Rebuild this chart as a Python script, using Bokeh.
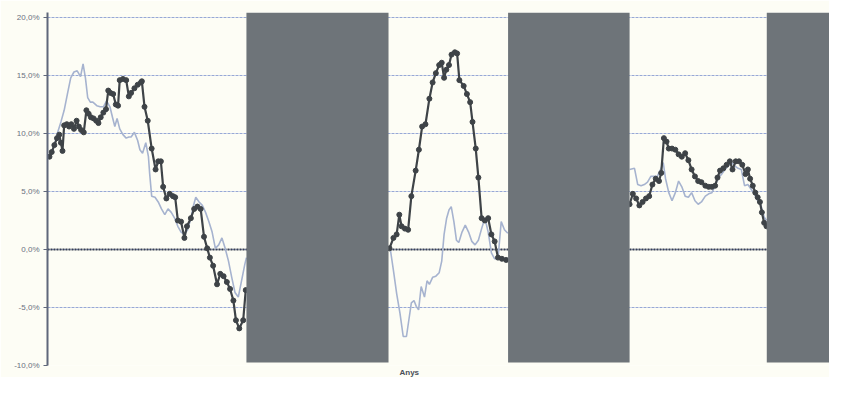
import math
from bokeh.plotting import figure
from bokeh.models import FixedTicker, Span, Range1d, Title
from bokeh.embed import file_html
from bokeh.resources import INLINE

NAN = float("nan")

# x positions (observation index along "Anys") and values in %
dark_x1 = [2, 4.3, 7, 9.7, 12, 13.7, 15.3, 17, 19.7, 22, 24.3, 27, 29.7, 32, 34.3, 37, 39.7, 42, 44.3,
           47, 49.7, 52, 54.3, 57, 59.7, 62, 64.3, 67, 69.7, 72, 73.7, 77, 80.3, 83, 85.3, 88.7, 92,
           95.3, 96.3, 99, 102.3, 106.3, 110.3, 113, 115.7, 118, 121.3, 124.7, 128, 130.3, 133, 136.3,
           139.7, 142.3, 146.3, 149.7, 153, 156.3, 159.7, 163, 165.7, 169, 173, 176.3, 179.7, 183, 186.3,
           189.7, 192.3, 195.7, 199.7, 202.3]
dark_y1 = [8.0, 8.4, 9.0, 9.6, 9.9, 9.2, 8.5, 10.7, 10.8, 10.6, 10.8, 10.4, 11.1, 10.6, 10.3, 10.1, 12.0,
           11.7, 11.4, 11.3, 11.1, 10.9, 11.4, 11.8, 12.1, 13.7, 13.5, 13.4, 12.5, 12.4, 14.6, 14.7, 14.6,
           13.2, 13.5, 13.9, 14.2, 14.4, 14.5, 12.3, 11.1, 8.7, 6.9, 7.6, 7.6, 5.4, 4.4, 4.8, 4.6, 4.5,
           2.5, 2.4, 1.0, 2.0, 2.7, 3.5, 3.7, 3.5, 1.1, 0.1, -0.7, -1.4, -3.0, -2.1, -2.3, -2.8, -3.4,
           -4.4, -6.1, -6.8, -6.1, -3.5]

dark_x2 = [349, 353, 356.3, 359, 361.3, 364.7, 368, 371.3, 375.7, 379, 382.3, 385.7, 389.7, 393, 396.3,
           399.7, 402.3, 404.7, 407, 409.7, 412.3, 415.7, 418, 420.3, 424.7, 428, 431.3, 433.7, 437,
           439.7, 443, 446.3, 449.7, 453, 456.3, 459.7, 463.7, 468]
dark_y2 = [0.1, 1.0, 1.3, 3.0, 2.0, 1.8, 1.7, 4.6, 6.8, 8.6, 10.6, 10.8, 13.0, 14.4, 15.2, 15.9, 16.1,
           14.8, 15.5, 15.9, 16.8, 17.0, 16.9, 14.6, 14.1, 13.4, 12.7, 11.0, 8.7, 6.2, 2.7, 2.5, 2.7,
           1.3, 0.7, -0.7, -0.8, -0.9]

dark_x3 = [594, 597.3, 600.7, 604, 607.3, 610.7, 614, 617.3, 620.7, 624, 626.3, 629, 631.7, 634, 637.3,
           640.7, 644, 647.3, 650.7, 654, 657.3, 660.7, 664, 667.3, 671.3, 674.7, 678, 681.3, 683.7,
           686.3, 689.7, 693, 696.3, 699, 702.3, 705.7, 709, 712.3, 714.7, 717, 719.7, 722.3, 724.7,
           727, 729, 731.3, 733.7]
dark_y3 = [3.9, 4.8, 4.4, 3.8, 4.1, 4.4, 4.6, 5.6, 6.1, 5.9, 6.6, 9.6, 9.3, 8.7, 8.7, 8.6, 8.2, 8.0,
           8.3, 7.7, 6.9, 6.3, 5.9, 5.8, 5.5, 5.4, 5.4, 5.5, 6.2, 6.8, 7.0, 7.3, 7.6, 6.9, 7.6, 7.6,
           7.3, 6.5, 6.9, 6.1, 5.5, 4.9, 4.5, 4.1, 3.2, 2.3, 2.0]

light_x1 = [2, 7, 10, 13.7, 17, 20.3, 23.7, 27, 30.3, 33.7, 36.3, 38.7, 41, 43.7, 46.3, 50.3, 53.7, 57,
            60.3, 63.7, 66.3, 68.7, 71, 73.7, 77, 80.3, 83, 85.3, 88.7, 92, 94.3, 97, 100.3, 103, 104.3,
            106.3, 109.7, 113, 116.3, 119.7, 123, 126.3, 129.7, 133, 136.3, 139.7, 143, 146.3, 149,
            151.3, 154.7, 158, 161.3, 164.7, 168, 171.3, 174.7, 178, 181.3, 184.7, 188, 191.3, 194.7,
            198, 201.3, 203]
light_y1 = [7.8, 9.0, 10.0, 11.0, 12.0, 13.4, 14.8, 15.3, 15.4, 14.9, 16.0, 14.8, 13.1, 12.7, 12.7,
            12.4, 12.3, 12.3, 12.8, 12.3, 11.4, 10.6, 11.3, 10.4, 9.9, 9.6, 9.7, 9.7, 10.1, 9.4, 8.6,
            8.3, 9.2, 8.0, 6.5, 4.6, 4.5, 4.1, 3.5, 3.0, 3.5, 3.2, 2.7, 2.0, 1.5, 1.3, 1.7, 2.7, 3.8,
            4.5, 4.1, 3.8, 3.2, 2.4, 1.5, 0.1, 0.4, 1.0, 0.1, -1.0, -2.4, -3.7, -4.1, -2.7, -1.3, -0.7]

light_x2 = [349.7, 353, 356.3, 359.7, 363, 366.3, 368.7, 371.3, 374, 376.3, 378.7, 381.3, 384.7, 387.3,
            389.7, 393, 396.3, 399.7, 402.3, 404.7, 407.3, 409.7, 412, 414.7, 417.3, 419.7, 423, 426.3,
            429.7, 433, 436.3, 439.7, 443, 446.3, 449.7, 453, 456.3, 459.7, 463, 466.3, 469.7]
light_y2 = [0.1, -1.8, -3.8, -5.5, -7.5, -7.5, -6.1, -4.6, -4.4, -4.9, -5.2, -3.2, -4.1, -2.7, -3.0,
            -2.4, -2.3, -2.0, -1.0, 1.3, 2.7, 3.4, 3.7, 2.4, 0.8, 0.6, 1.5, 2.1, 1.5, 0.7, 0.4, 0.8,
            1.8, 2.7, 1.5, -0.3, -0.8, -0.8, 2.4, 1.7, 1.4]

light_x3 = [594, 599, 602.3, 605.7, 609, 612.3, 615.7, 619, 622.3, 625.7, 628.3, 630.7, 634, 637.3,
            640.7, 644, 647.3, 650.7, 654, 657.3, 660.7, 664, 667.3, 671.3, 674.7, 678, 681.3, 684.7,
            688, 691.3, 694.7, 698, 701.3, 704.7, 708, 711.3, 714.7, 718, 721.3, 724.7, 728, 731.3,
            733.7]
light_y3 = [6.9, 7.0, 5.6, 5.5, 5.6, 5.8, 6.3, 6.3, 6.3, 6.9, 7.5, 6.1, 4.9, 4.2, 4.9, 5.9, 5.4, 4.6,
            4.5, 4.9, 4.2, 3.9, 4.1, 4.6, 4.8, 4.9, 5.5, 6.2, 6.5, 6.9, 7.2, 7.5, 7.2, 7.0, 6.9, 5.5,
            5.6, 5.2, 4.8, 4.2, 3.8, 2.8, 2.5]

# shaded periods
band_left = [203, 470, 734]
band_right = [348, 594, 800]

y_ticks = [-10, -5, 0, 5, 10, 15, 20]
y_tick_labels = ["-10,0%", "-5,0%", "0,0%", "5,0%", "10,0%", "15,0%", "20,0%"]
x_label = "Anys"

BG = "#fdfdf5"
Y_TOP = 20.43

p = figure(width=829, height=377, output_backend="svg", toolbar_location=None,
           x_range=Range1d(0, 798), y_range=Range1d(-10, Y_TOP),
           min_border_left=47, min_border_right=0, min_border_top=12, min_border_bottom=11)
p.background_fill_color = BG
p.border_fill_color = BG
p.outline_line_color = None

p.xaxis.visible = False
p.xgrid.visible = False
p.ygrid.ticker = FixedTicker(ticks=y_ticks)
p.ygrid.grid_line_color = "#97a8d6"
p.ygrid.grid_line_dash = "3 1"
p.ygrid.grid_line_width = 1.2

ax = p.yaxis[0]
ax.ticker = FixedTicker(ticks=y_ticks)
ax.major_label_overrides = {t: l for t, l in zip(y_ticks, y_tick_labels)}
ax.axis_line_color = "#5f677a"
ax.axis_line_width = 2
ax.major_tick_line_color = "#5f677a"
ax.major_tick_out = 4
ax.major_tick_in = 0
ax.minor_tick_line_color = None
ax.major_label_text_font = "Liberation Sans"
ax.major_label_text_font_size = "8px"
ax.major_label_text_color = "#6a7080"
ax.major_label_standoff = 4

zero = Span(location=0, dimension="width", line_color="#3a4050", line_width=2,
            line_dash="2 1", level="underlay")
p.add_layout(zero)

def joined(xs_list, ys_list):
    xs, ys = [], []
    for xs_i, ys_i in zip(xs_list, ys_list):
        if xs:
            xs.append(NAN); ys.append(NAN)
        xs += list(xs_i); ys += list(ys_i)
    return xs, ys

lx, ly = joined([light_x1, light_x2, light_x3], [light_y1, light_y2, light_y3])
p.line(lx, ly, line_color="#a6b3cf", line_width=1.6)

dx, dy = joined([dark_x1, dark_x2, dark_x3], [dark_y1, dark_y2, dark_y3])
p.line(dx, dy, line_color="#3e4347", line_width=2.2)
for xs_i, ys_i in zip([dark_x1, dark_x2, dark_x3], [dark_y1, dark_y2, dark_y3]):
    p.scatter(xs_i, ys_i, size=5, fill_color="#3e4347", line_color="#3e4347")

p.quad(left=band_left, right=band_right, bottom=[-9.75] * 3, top=[Y_TOP] * 3,
       fill_color="#6e7479", line_color=None)

t = Title(text=x_label, align="left", offset=352, standoff=1,
          text_font="Liberation Sans", text_font_size="8px", text_font_style="bold",
          text_color="#4a4f5a")
p.add_layout(t, "below")

open("out.html", "w").write(file_html(p, INLINE))
